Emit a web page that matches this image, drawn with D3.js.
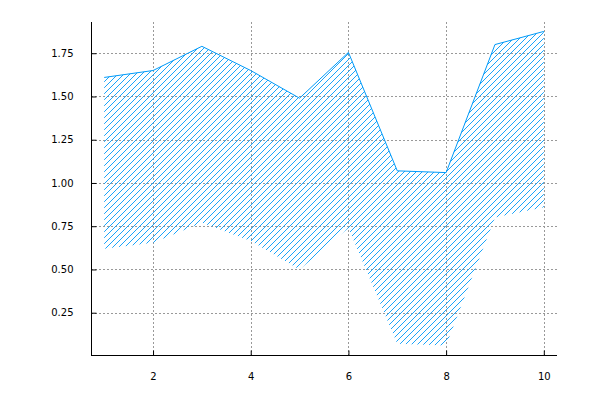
<!DOCTYPE html>
<html>
<head>
<meta charset="utf-8">
<script src="https://cdn.jsdelivr.net/npm/d3@7"></script>
<style>
  body { margin: 0; background: #fff; }
  text { font-family: "DejaVu Sans", sans-serif; font-size: 10px; fill: #000; }
</style>
</head>
<body>
<div id="chart"></div>
<script>
var xs = [1, 2, 3, 4, 5, 6, 7, 8, 9, 10];
var upper = [1.61, 1.65, 1.79, 1.65, 1.49, 1.755, 1.07, 1.06, 1.80, 1.876];
var lower = [0.62, 0.655, 0.77, 0.665, 0.50, 0.74, 0.07, 0.06, 0.80, 0.86];
var xTicks = [2, 4, 6, 8, 10];
var yTicks = [0.25, 0.5, 0.75, 1.0, 1.25, 1.5, 1.75];

var color = "#009af9";
var plotLeft = 91, plotRight = 557, plotTop = 22, plotBottom = 355;

var svg = d3.select("#chart")
    .append("svg")
    .attr("width", 600)
    .attr("height", 400);

// hatch pattern "/"
var pat = svg.append("defs").append("pattern")
    .attr("id", "hatch")
    .attr("patternUnits", "userSpaceOnUse")
    .attr("width", 6)
    .attr("height", 6);
pat.append("path")
    .attr("d", "M0,6 L6,0 M-1,1 L1,-1 M5,7 L7,5")
    .attr("stroke", color)
    .attr("stroke-width", 0.9)
    .attr("fill", "none");

var xPad = (d3.max(xs) - d3.min(xs)) * 0.03;
var xScale = d3.scaleLinear()
    .domain([d3.min(xs) - xPad, d3.max(xs) + xPad])
    .range([plotLeft, plotRight]);

var yMin = d3.min(lower), yMax = d3.max(upper);
var yPad = (yMax - yMin) * 0.03;
var yScale = d3.scaleLinear()
    .domain([yMin - yPad, yMax + yPad])
    .range([plotBottom, plotTop]);

// grid
svg.append("g").selectAll("line")
    .data(xTicks)
    .enter().append("line")
    .attr("x1", d => Math.round(xScale(d)) + 0.5)
    .attr("x2", d => Math.round(xScale(d)) + 0.5)
    .attr("y1", plotTop)
    .attr("y2", plotBottom)
    .attr("stroke", "#999")
    .attr("stroke-dasharray", "2,2");

svg.append("g").selectAll("line")
    .data(yTicks)
    .enter().append("line")
    .attr("x1", plotLeft)
    .attr("x2", plotRight)
    .attr("y1", d => Math.round(yScale(d)) + 0.5)
    .attr("y2", d => Math.round(yScale(d)) + 0.5)
    .attr("stroke", "#999")
    .attr("stroke-dasharray", "2,2");

var data = xs.map(function (x, i) {
    return { x: x, lo: lower[i], hi: upper[i] };
});

var area = d3.area()
    .x(d => xScale(d.x))
    .y0(d => yScale(d.lo))
    .y1(d => yScale(d.hi));

svg.append("path")
    .datum(data)
    .attr("d", area)
    .attr("fill", "url(#hatch)");

var line = d3.line()
    .x(d => xScale(d.x))
    .y(d => yScale(d.hi));

svg.append("path")
    .datum(data)
    .attr("d", line)
    .attr("stroke", color)
    .attr("stroke-width", 1)
    .attr("fill", "none");

// axes (ticks inward)
var xAxis = svg.append("g")
    .attr("transform", "translate(0," + (plotBottom + 0.5) + ")")
    .call(d3.axisBottom(xScale).tickValues(xTicks).tickSizeInner(-5).tickSizeOuter(0).tickPadding(17).tickFormat(d3.format("d")));
xAxis.select(".domain").attr("d", "M" + plotLeft + ",0H" + plotRight);

var yAxis = svg.append("g")
    .attr("transform", "translate(" + (plotLeft + 0.5) + ",0)")
    .call(d3.axisLeft(yScale).tickValues(yTicks).tickSizeInner(-5).tickSizeOuter(0).tickPadding(18).tickFormat(d3.format(".2f")));
yAxis.select(".domain").attr("d", "M0," + plotTop + "V" + plotBottom);

svg.selectAll(".tick text")
    .style("font-family", "DejaVu Sans, sans-serif")
    .style("font-size", "10px");
</script>
</body>
</html>
